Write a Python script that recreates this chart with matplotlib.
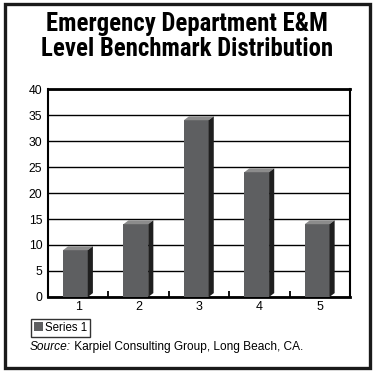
import matplotlib
matplotlib.use("Agg")
import matplotlib.pyplot as plt
from matplotlib.patches import Polygon, Rectangle
from matplotlib.ticker import FixedLocator

categories = ["1", "2", "3", "4", "5"]
values = [9, 14, 34, 24, 14]
yticks = [0, 5, 10, 15, 20, 25, 30, 35, 40]
series_name = "Series 1"
title = "Emergency Department E&M\nLevel Benchmark Distribution"
source_label = "Source:"
source_text = " Karpiel Consulting Group, Long Beach, CA."

front_c = "#5e5f61"
top_c = "#8c8c8c"
side_c = "#1f1f1f"

plt.rcParams['font.family'] = ['Liberation Sans', 'DejaVu Sans']

fig = plt.figure(figsize=(3.74, 3.71), dpi=100)
ax = fig.add_axes([0.128, 0.1995, 0.808, 0.5605])

x = list(range(len(categories)))
w = 0.41
left_off = -0.25
dx = 0.085
dy = 0.75

bars = ax.bar([i + left_off for i in x], values, width=w, align='edge',
              color=front_c, zorder=3, label=series_name)
for i, v in zip(x, values):
    x0 = i + left_off
    x1 = x0 + w
    ax.add_patch(Polygon([(x0, v), (x1, v), (x1 + dx, v + dy), (x0 + dx, v + dy)],
                         closed=True, facecolor=top_c, edgecolor='none', zorder=3))
    ax.add_patch(Polygon([(x1, 0), (x1 + dx, dy), (x1 + dx, v + dy), (x1, v)],
                         closed=True, facecolor=side_c, edgecolor='none', zorder=3))

ax.set_xlim(-0.5, 4.5)
ax.set_ylim(0, 40)
ax.set_yticks(yticks)
ax.set_yticklabels([str(t) for t in yticks])
ax.yaxis.grid(True, color='black', linewidth=1.0, zorder=1)
ax.set_axisbelow(True)
ax.set_xticks(x)
ax.set_xticklabels(categories)
ax.xaxis.set_minor_locator(FixedLocator([i + 0.5 for i in x[:-1]]))
ax.tick_params(axis='x', which='major', length=0, pad=3, labelsize=9)
ax.tick_params(axis='x', which='minor', length=4, width=1.3, direction='in', color='black')
ax.tick_params(axis='y', which='major', length=0, pad=4, labelsize=8.8)
for s in ax.spines.values():
    s.set_color('black')
    s.set_linewidth(1.5)
ax.spines['bottom'].set_linewidth(2)
ax.spines['top'].set_linewidth(2)

leg = ax.legend(handles=[bars], labels=[series_name], loc='upper left',
                bbox_to_anchor=(31 / 374, 1 - 319 / 371), bbox_transform=fig.transFigure,
                frameon=True, fancybox=False, edgecolor='black', fontsize=8.3,
                handlelength=0.8, handleheight=0.8, handletextpad=0.15,
                borderpad=0.25, borderaxespad=0)
leg.get_frame().set_linewidth(1.0)

fig.text(0.5, 1 - 36.5 / 371, title, ha='center', va='center', fontsize=17.8,
         fontweight='heavy',
         family=['Roboto Condensed', 'Barlow Condensed', 'DejaVu Sans'],
         linespacing=1.0)

t1 = fig.text(30 / 374, 1 - 347 / 371, source_label, ha='left', va='center',
              fontsize=8.6, style='italic')
fig.canvas.draw()
bb = t1.get_window_extent()
fig.text(bb.x1 / fig.bbox.width, 1 - 347 / 371, source_text, ha='left', va='center',
         fontsize=8.6)

fig.patches.append(Rectangle((5 / 374, 3 / 371), 365 / 374, 364 / 371,
                             transform=fig.transFigure, fill=False,
                             edgecolor='#1a1a1a', linewidth=2.4))

fig.savefig("out.png", dpi=100)
